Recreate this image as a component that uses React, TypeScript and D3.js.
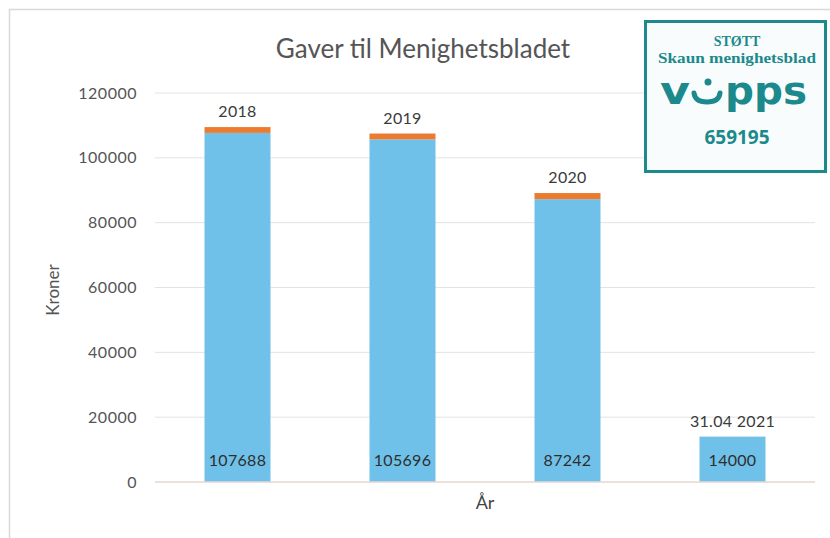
import React from 'react';
import * as d3 from 'd3';

const categories = ['2018', '2019', '2020', '2021'];
const giftValues = [107688, 105696, 87242, 14000];
const extraValues = [1800, 1800, 1900, 0];
const topLabels = ['2018', '2019', '2020', '31.04 2021'];
const valueLabels = ['107688', '105696', '87242', '14000'];
const yTicks = [0, 20000, 40000, 60000, 80000, 100000, 120000];

const W = 830;
const H = 538;
const plot = { left: 155, right: 815, top: 93, bottom: 482 };

const BLUE = '#6fc1e9';
const ORANGE = '#ec7b30';
const TEAL = '#1c898c';
const FONT = 'Lato, "Open Sans", sans-serif';

export default function App() {
  const x = d3.scaleBand<string>().domain(categories).range([plot.left, plot.right]).paddingInner(0.6).paddingOuter(0.3);
  const y = d3.scaleLinear().domain([0, 120000]).range([plot.bottom, plot.top]);

  const rows = categories.map((c, i) => ({ cat: c, gift: giftValues[i], extra: extraValues[i] }));
  const stack = d3.stack<any>().keys(['gift', 'extra'])(rows);
  const colors: Record<string, string> = { gift: BLUE, extra: ORANGE };

  return (
    <svg width={W} height={H} style={{ position: 'absolute', left: 0, top: 0, background: '#fff' }}>
      <rect x={9.5} y={9.5} width={W} height={H} fill="#fff" stroke="#d9d9d9" strokeWidth={1.5} />

      <text x={423} y={58} textAnchor="middle" fontFamily={FONT} fontSize={26} fill="#555">
        Gaver til Menighetsbladet
      </text>

      {yTicks.map((t) => (
        <g key={t}>
          {t !== 0 && (
            <line x1={plot.left} x2={plot.right} y1={y(t)} y2={y(t)} stroke="#e3e3e3" strokeWidth={1} />
          )}
          <text x={137} y={y(t) + 5.5} textAnchor="end" fontFamily={FONT} fontSize={16} letterSpacing={0.5} fill="#555">
            {t}
          </text>
        </g>
      ))}

      {stack.map((layer) => (
        <g key={layer.key} fill={colors[layer.key]}>
          {layer.map((d, i) => {
            const h = y(d[0]) - y(d[1]);
            if (h <= 0) return null;
            return <rect key={i} x={x(categories[i])} y={y(d[1])} width={x.bandwidth()} height={h} />;
          })}
        </g>
      ))}

      <line x1={plot.left} x2={plot.right} y1={y(0)} y2={y(0)} stroke="#e6d6d0" strokeWidth={1.5} />

      {categories.map((c, i) => {
        const cx = (x(c) as number) + x.bandwidth() / 2;
        const total = giftValues[i] + extraValues[i];
        return (
          <g key={c} fontFamily={FONT} textAnchor="middle">
            <text x={cx} y={y(total) - 10} fontSize={16} letterSpacing={0.3} fill="#3a3a3a">
              {topLabels[i]}
            </text>
            <text x={cx} y={y(0) - 16} fontSize={16} letterSpacing={0.3} fill="#2e2e2e">
              {valueLabels[i]}
            </text>
          </g>
        );
      })}

      <text x={485} y={509} textAnchor="middle" fontFamily={FONT} fontSize={18} fill="#444">
        År
      </text>
      <text transform="translate(59,290) rotate(-90)" textAnchor="middle" fontFamily={FONT} fontSize={17} fill="#555">
        Kroner
      </text>

      <g>
        <rect x={645.5} y={21.5} width={180} height={150} fill="#f8fcfc" stroke={TEAL} strokeWidth={3} />
        <text x={737} y={46} textAnchor="middle" fontFamily='"Liberation Serif", serif' fontWeight="bold" fontSize={14} fill={TEAL}>
          STØTT
        </text>
        <text x={737} y={63} textAnchor="middle" fontFamily='"Liberation Serif", serif' fontWeight="bold" fontSize={14} fill={TEAL} textLength={158} lengthAdjust="spacingAndGlyphs">
          Skaun menighetsblad
        </text>
        <text x={660} y={104} fontFamily='"DejaVu Sans", sans-serif' fontWeight="bold" fontSize={38} fill={TEAL} textLength={30} lengthAdjust="spacingAndGlyphs">
          v
        </text>
        <path d="M694,93 Q695,102 707,102 Q719,102 720,93" fill="none" stroke={TEAL} strokeWidth={5} strokeLinecap="round" />
        <circle cx={708} cy={82} r={3.5} fill={TEAL} />
        <text x={725} y={104} fontFamily='"DejaVu Sans", sans-serif' fontWeight="bold" fontSize={38} fill={TEAL} textLength={82} lengthAdjust="spacingAndGlyphs">
          pps
        </text>
        <text x={737} y={144} textAnchor="middle" fontFamily='"Open Sans", sans-serif' fontWeight="bold" fontSize={19} fill={TEAL}>
          659195
        </text>
      </g>
    </svg>
  );
}
